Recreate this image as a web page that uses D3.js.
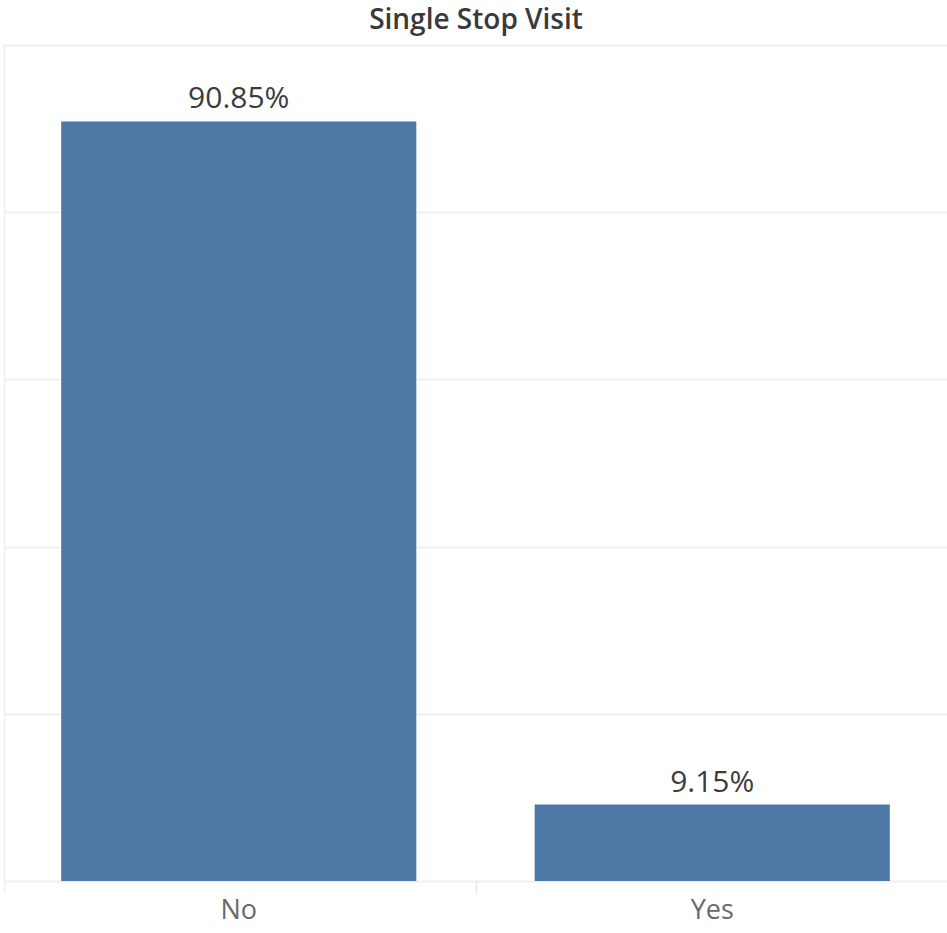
<!DOCTYPE html>
<html>
<head>
<meta charset="utf-8">
<script src="https://cdn.jsdelivr.net/npm/d3@7"></script>
<style>
  body { margin: 0; background: #fff; }
  svg { display: block; }
</style>
</head>
<body>
<div id="chart"></div>
<script>
// data
const categories = ["No", "Yes"];
const values = [90.85, 9.15];
const gridTicks = [0, 20, 40, 60, 80, 100];

const width = 947, height = 933;
const plotTop = 45, plotBottom = 881;

let svg = d3.select("#chart").append("svg")
    .attr("width", width)
    .attr("height", height);

let x = d3.scaleBand()
    .domain(categories)
    .range([2, 949])
    .paddingInner(0.25)
    .paddingOuter(0.125);

let y = d3.scaleLinear()
    .domain([0, 100])
    .range([plotBottom, plotTop]);

// gridlines
svg.append("g")
    .selectAll("line")
    .data(gridTicks)
    .join("line")
    .attr("x1", 4)
    .attr("x2", width)
    .attr("y1", d => Math.round(y(d)) + 0.5)
    .attr("y2", d => Math.round(y(d)) + 0.5)
    .attr("stroke", "#f0f0f0")
    .attr("stroke-width", 2);

// left axis line
svg.append("line")
    .attr("x1", 4.5).attr("x2", 4.5)
    .attr("y1", plotTop).attr("y2", plotBottom + 12)
    .attr("stroke", "#efefef")
    .attr("stroke-width", 1.5);

// divider tick between categories
svg.append("line")
    .attr("x1", 476.5).attr("x2", 476.5)
    .attr("y1", plotBottom).attr("y2", plotBottom + 12)
    .attr("stroke", "#e6e6e6")
    .attr("stroke-width", 1.5);

// bars
svg.append("g")
    .selectAll("rect")
    .data(values)
    .join("rect")
    .attr("x", (d, i) => x(categories[i]))
    .attr("y", d => y(d))
    .attr("width", x.bandwidth())
    .attr("height", d => y(0) - y(d))
    .attr("fill", "#4e79a7");

// value labels
svg.append("g")
    .selectAll("text")
    .data(values)
    .join("text")
    .attr("x", (d, i) => x(categories[i]) + x.bandwidth() / 2)
    .attr("y", d => y(d) - 13)
    .attr("text-anchor", "middle")
    .attr("font-family", "Open Sans, sans-serif")
    .attr("font-size", 30)
    .attr("fill", "#3c3c3c")
    .text(d => d.toFixed(2) + "%");

// category labels
svg.append("g")
    .selectAll("text")
    .data(categories)
    .join("text")
    .attr("x", d => x(d) + x.bandwidth() / 2)
    .attr("y", 919)
    .attr("text-anchor", "middle")
    .attr("font-family", "Open Sans, sans-serif")
    .attr("font-size", 27)
    .attr("fill", "#6a6a6a")
    .text(d => d);

// title
svg.append("text")
    .attr("x", 476)
    .attr("y", 29)
    .attr("text-anchor", "middle")
    .attr("font-family", "Open Sans, sans-serif")
    .attr("font-weight", 600)
    .attr("font-size", 28)
    .attr("fill", "#3a3a3a")
    .text("Single Stop Visit");
</script>
</body>
</html>
